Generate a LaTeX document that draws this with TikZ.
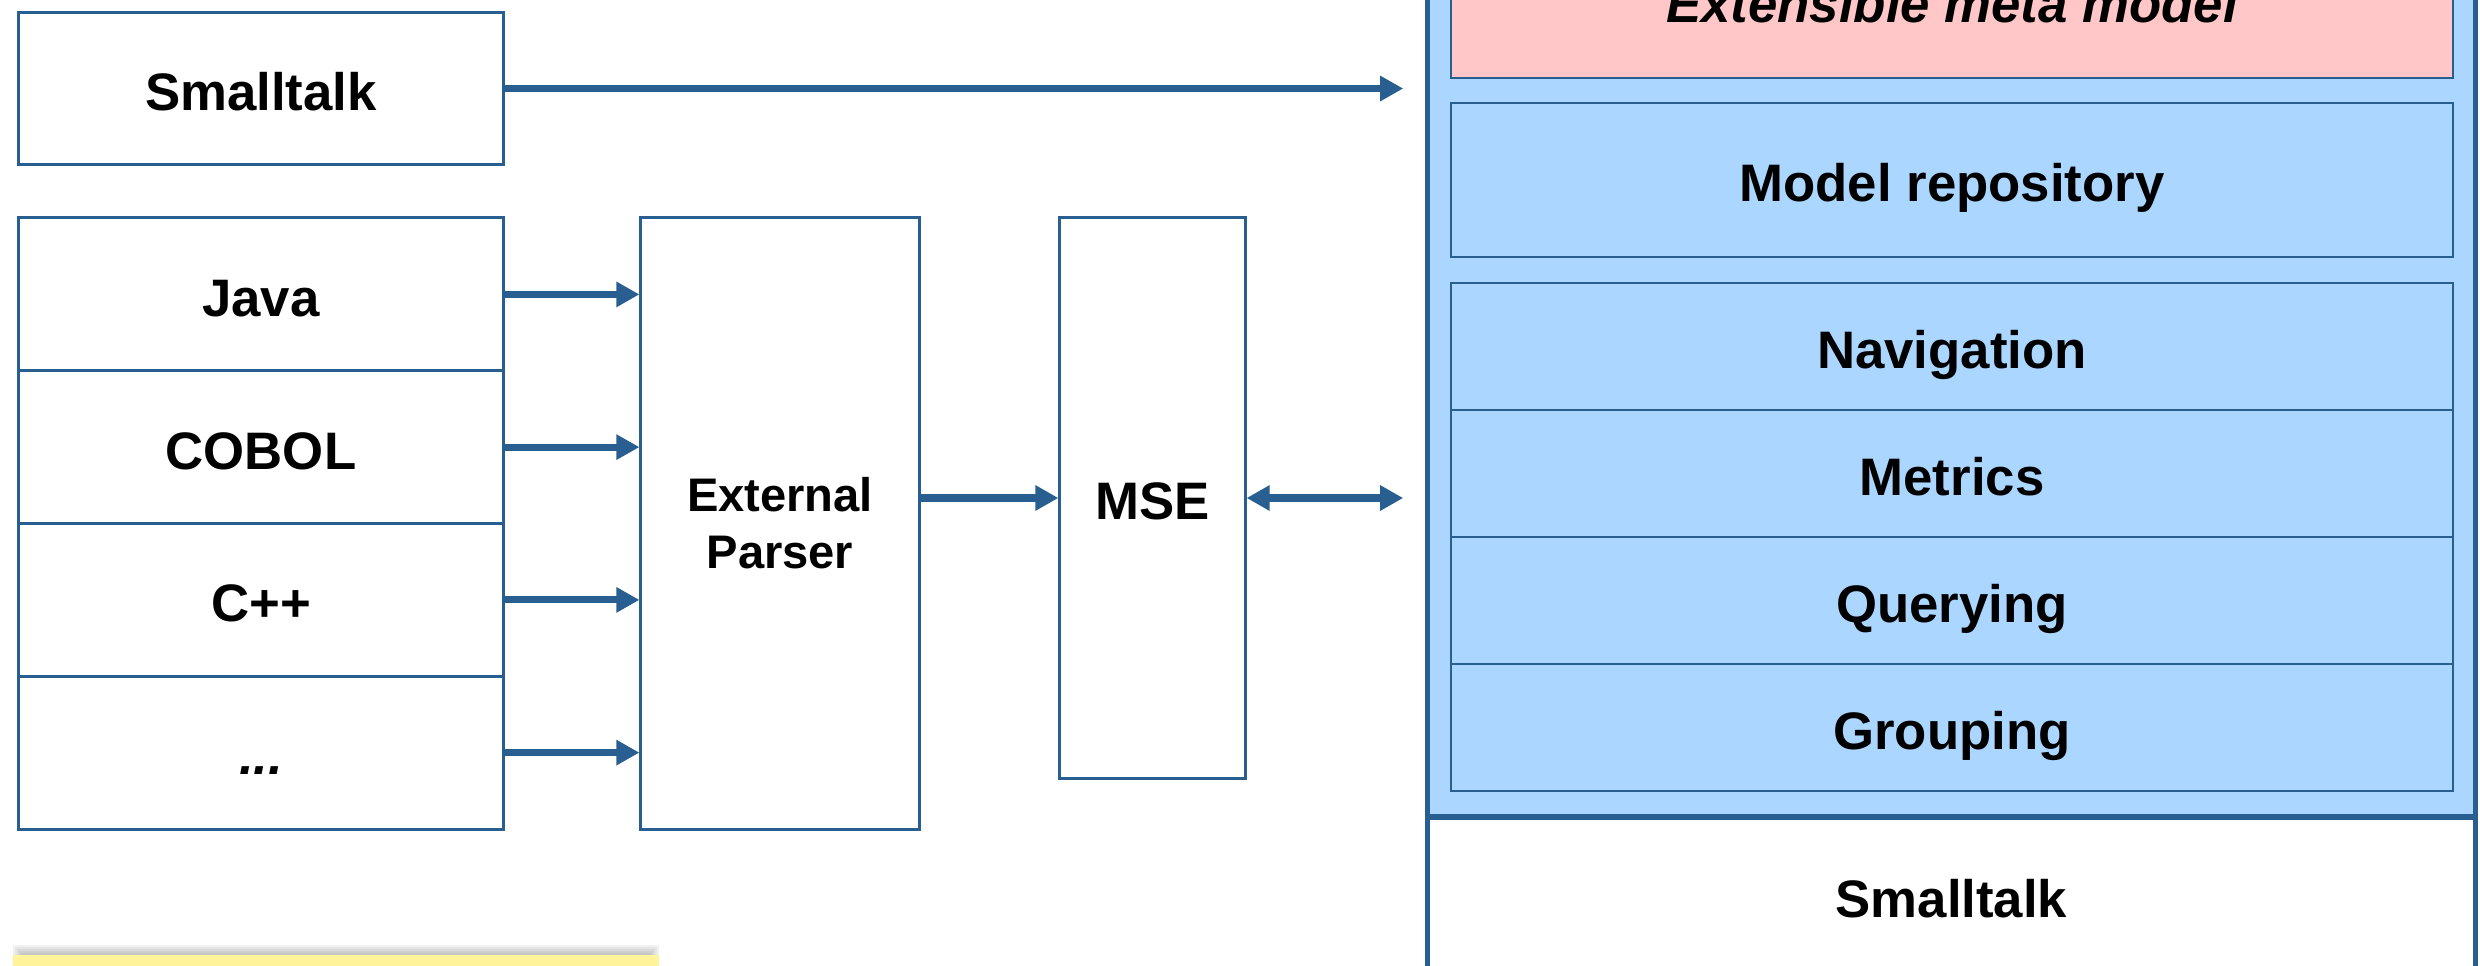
\documentclass[tikz,border=0pt]{standalone}
\usepackage{fontspec}
\setmainfont{Liberation Sans}
\usetikzlibrary{arrows.meta}

\definecolor{edgeblue}{RGB}{41,94,145}
\definecolor{layerblue}{RGB}{170,214,255}
\definecolor{metapink}{RGB}{255,199,199}
\definecolor{noteyellow}{RGB}{255,244,154}

\tikzset{
  frame/.style={draw=edgeblue, line width=0.85pt, fill=white, inner sep=0pt, align=center,
    font=\bfseries\fontsize{15}{18}\selectfont},
  lang/.style={frame, minimum width=4.84cm, text height=12.45pt, text depth=0pt},
  layer/.style={draw=edgeblue, line width=0.6pt, fill=layerblue, minimum width=10.02cm,
    inner sep=0pt, text height=12.45pt, text depth=0pt, font=\bfseries\fontsize{15}{18}\selectfont},
  flow/.style={draw=edgeblue, line width=2pt, -{Triangle[length=0.23cm, width=0.24cm]}},
}

\begin{document}
\begin{tikzpicture}[x=0.01cm, y=-0.01cm]
        \useasboundingbox (0,0) rectangle (2480,966);
        \clip (0,0) rectangle (2480,966);

        % sources
        \node (small) at (261,88.5) [lang, minimum height=1.51cm] {Smalltalk};
        \node (java) at (261,294.4) [lang, minimum height=1.53cm] {Java};
        \node (cobol) at (261,447.1) [lang, minimum height=1.53cm] {COBOL};
        \node (cpp) at (261,599.9) [lang, minimum height=1.53cm] {C++};
        \node (dots) at (261,752.6) [lang, minimum height=1.53cm] {\textit{...}};
        \node (parser) at (780,523.5) [frame, minimum width=2.78cm, minimum height=6.11cm, font=\bfseries\fontsize{13.4}{16.2}\selectfont] {External\\Parser};
        \node (mse) at (1152.5,498) [lang, minimum width=1.85cm, minimum height=5.6cm] {MSE};

        % moose stack
        \node (moose) at (1951.5,333) [draw=edgeblue, line width=1.4pt, fill=layerblue, minimum width=10.47cm, minimum height=9.66cm] {};
        \node (base) at (1951.5,895.5) [lang, line width=1.4pt, minimum width=10.47cm, minimum height=1.55cm] {Smalltalk};
        \node (meta) at (1952,1) [layer, fill=metapink, minimum height=1.54cm, font=\bfseries\itshape\fontsize{15}{18}\selectfont] {Extensible meta model};
        \node (repo) at (1952,180) [layer, minimum height=1.54cm] {Model repository};
        \node (nav) at (1952,346.5) [layer, minimum height=1.27cm] {Navigation};
        \node (metrics) at (1952,473.5) [layer, minimum height=1.27cm] {Metrics};
        \node (query) at (1952,600.5) [layer, minimum height=1.27cm] {Querying};
        \node (group) at (1952,727.5) [layer, minimum height=1.27cm] {Grouping};

        % note with soft shadow
        \foreach \s in {2,4,6,8,10}
            \fill[black, opacity=0.05] (23-\s,955-\s) rectangle (649+\s,1100);
        \node (note) at (336,1005) [fill=noteyellow, minimum width=6.46cm, minimum height=1cm] {};

        \draw[flow, shorten >=0.22cm] (small) -- (small -| moose.west);
        \foreach \src in {java,cobol,cpp,dots}
            \draw[flow] (\src) -- (\src -| parser.west);
        \draw[flow] (parser.east |- mse) -- (mse);
        \draw[flow, {Triangle[length=0.23cm, width=0.24cm]}-{Triangle[length=0.23cm, width=0.24cm]}, shorten >=0.22cm] (mse) -- (mse -| moose.west);

    \end{tikzpicture}
\end{document}
